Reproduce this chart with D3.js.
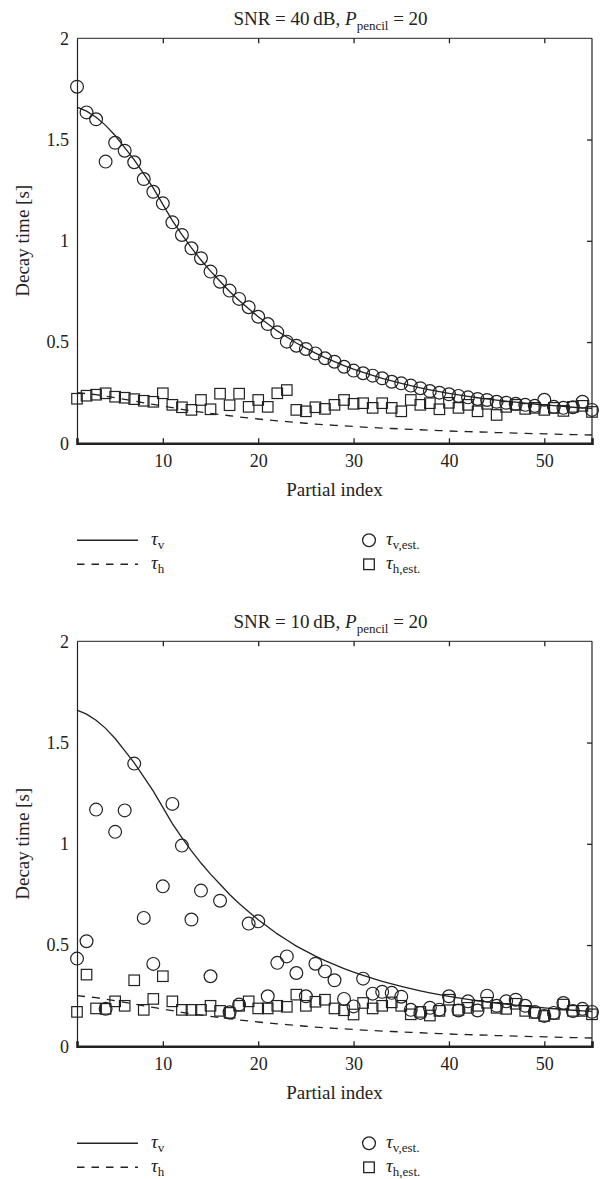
<!DOCTYPE html>
<meta charset="utf-8">
<head>
  <title>Decay time per partial</title>
</head>
<style>
body { margin: 0; background: #fff; }
svg text { font-family: "Liberation Serif", "Times New Roman", serif; fill: #222; }
</style>
<body>
<svg id="chart" width="605" height="1179"></svg>
<script src="https://cdnjs.cloudflare.com/ajax/libs/d3/7.8.5/d3.min.js"></script>
<script>
// partial index 1..55
var partials = d3.range(1, 56);

// model curves (same in both panels)
var tauV = [1.66, 1.64, 1.61, 1.57, 1.52, 1.46, 1.40, 1.33, 1.26, 1.18,
  1.10, 1.03, 0.965, 0.905, 0.85, 0.80, 0.75, 0.705, 0.665, 0.625,
  0.59, 0.555, 0.525, 0.495, 0.47, 0.445, 0.423, 0.403, 0.384, 0.366,
  0.35, 0.335, 0.321, 0.308, 0.296, 0.285, 0.274, 0.264, 0.255, 0.247,
  0.239, 0.232, 0.225, 0.219, 0.213, 0.208, 0.203, 0.198, 0.194, 0.19,
  0.186, 0.182, 0.178, 0.175, 0.172];
var tauH = [0.25, 0.245, 0.24, 0.233, 0.225, 0.217, 0.209, 0.2, 0.192, 0.184,
  0.176, 0.168, 0.161, 0.154, 0.148, 0.142, 0.136, 0.13, 0.125, 0.12,
  0.115, 0.111, 0.107, 0.103, 0.099, 0.095, 0.092, 0.089, 0.086, 0.083,
  0.08, 0.078, 0.075, 0.073, 0.071, 0.069, 0.067, 0.065, 0.063, 0.061,
  0.059, 0.058, 0.056, 0.055, 0.053, 0.052, 0.05, 0.049, 0.048, 0.047,
  0.045, 0.044, 0.043, 0.042, 0.041];

// SNR = 40 dB estimates
var tauVest40 = [1.761, 1.634, 1.60, 1.391, 1.484, 1.445, 1.388, 1.305, 1.242, 1.185,
  1.091, 1.029, 0.963, 0.914, 0.848, 0.798, 0.754, 0.713, 0.672, 0.625,
  0.589, 0.548, 0.502, 0.482, 0.466, 0.444, 0.42, 0.403, 0.378, 0.359,
  0.346, 0.334, 0.321, 0.304, 0.296, 0.285, 0.272, 0.258, 0.25, 0.242,
  0.234, 0.227, 0.219, 0.214, 0.205, 0.2, 0.195, 0.19, 0.185, 0.215,
  0.18, 0.175, 0.178, 0.205, 0.165];
var tauHest40 = [0.22, 0.235, 0.24, 0.247, 0.23, 0.225, 0.218, 0.21, 0.205, 0.247,
  0.19, 0.178, 0.165, 0.214, 0.168, 0.245, 0.188, 0.245, 0.18, 0.214,
  0.18, 0.247, 0.263, 0.165, 0.158, 0.178, 0.17, 0.19, 0.214, 0.195,
  0.198, 0.175, 0.198, 0.175, 0.158, 0.214, 0.19, 0.198, 0.168, 0.2,
  0.175, 0.19, 0.158, 0.195, 0.14, 0.18, 0.19, 0.17, 0.175, 0.165,
  0.175, 0.16, 0.18, 0.185, 0.155];

// SNR = 10 dB estimates
var tauVest10 = [0.433, 0.519, 1.169, 0.185, 1.059, 1.165, 1.396, 0.634, 0.407, 0.79,
  1.197, 0.991, 0.626, 0.769, 0.346, 0.719, 0.168, 0.206, 0.606, 0.617,
  0.247, 0.412, 0.444, 0.362, 0.247, 0.408, 0.37, 0.326, 0.234, 0.197,
  0.334, 0.26, 0.269, 0.264, 0.245, 0.18, 0.165, 0.19, 0.181, 0.247,
  0.177, 0.222, 0.177, 0.25, 0.2, 0.222, 0.23, 0.2, 0.17, 0.15,
  0.165, 0.214, 0.174, 0.185, 0.17];
var tauHest10 = [0.17, 0.354, 0.187, 0.185, 0.222, 0.2, 0.326, 0.18, 0.234, 0.346,
  0.222, 0.18, 0.18, 0.18, 0.2, 0.175, 0.165, 0.2, 0.222, 0.187,
  0.187, 0.2, 0.195, 0.255, 0.2, 0.22, 0.23, 0.187, 0.178, 0.157,
  0.214, 0.187, 0.2, 0.217, 0.2, 0.158, 0.17, 0.152, 0.175, 0.23,
  0.18, 0.19, 0.2, 0.215, 0.19, 0.185, 0.21, 0.175, 0.165, 0.15,
  0.16, 0.206, 0.175, 0.175, 0.158];

var xTicks = [10, 20, 30, 40, 50];
var yTicks = [0, 0.5, 1, 1.5, 2];

var svg = d3.select('#chart');
var W = 605;
var plotL = 77, plotR = 592, plotH = 405;
var ink = '#222';

var x = d3.scaleLinear().domain([1, 55]).range([plotL, plotR]);

function drawPanel(top, snr, vEst, hEst) {
  var y = d3.scaleLinear().domain([0, 2]).range([top + plotH, top]);
  var g = svg.append('g');

  // title
  var t = g.append('text')
    .attr('x', (plotL + plotR) / 2 - 4)
    .attr('y', top - 13)
    .attr('text-anchor', 'middle')
    .style('font-size', '19px');
  t.append('tspan').text('SNR = ' + snr + '\u2009dB, ');
  t.append('tspan').style('font-style', 'italic').text('P');
  t.append('tspan').attr('dy', 5).style('font-size', '13px').text('pencil');
  t.append('tspan').attr('dy', -5).text(' = 20');

  // box
  g.append('line').attr('x1', plotL).attr('x2', plotR).attr('y1', top).attr('y2', top)
    .attr('stroke', ink).attr('stroke-width', 1);
  g.append('line').attr('x1', plotR).attr('x2', plotR).attr('y1', top).attr('y2', top + plotH)
    .attr('stroke', ink).attr('stroke-width', 1.2);

  // axes
  var ax = g.append('g').attr('transform', 'translate(0,' + (top + plotH) + ')')
    .call(d3.axisBottom(x).tickValues(xTicks).tickSize(-5).tickFormat(d3.format('d')));
  ax.select('.domain').attr('stroke', ink).attr('stroke-width', 2.6);
  ax.selectAll('.tick line').attr('stroke', ink).attr('stroke-width', 1.3);
  ax.selectAll('.tick text').attr('y', 24).attr('dy', null)
    .style('font-size', '18px').attr('fill', ink);

  var axT = g.append('g').attr('transform', 'translate(0,' + top + ')')
    .call(d3.axisTop(x).tickValues(xTicks).tickSize(-5).tickFormat(''));
  axT.select('.domain').remove();
  axT.selectAll('.tick line').attr('stroke', ink).attr('stroke-width', 1.3);

  var ay = g.append('g').attr('transform', 'translate(' + plotL + ',0)')
    .call(d3.axisLeft(y).tickValues(yTicks).tickSize(0).tickPadding(8).tickFormat(d3.format('')));
  ay.select('.domain').attr('stroke', ink).attr('stroke-width', 1.2);
  ay.selectAll('.tick text').style('font-size', '18px').attr('fill', ink);

  var axR = g.append('g').attr('transform', 'translate(' + plotR + ',0)')
    .call(d3.axisRight(y).tickValues(yTicks.slice(1, 4)).tickSize(-5).tickFormat(''));
  axR.select('.domain').remove();
  axR.selectAll('.tick line').attr('stroke', ink).attr('stroke-width', 1.3);

  // axis labels
  g.append('text')
    .attr('x', (plotL + plotR) / 2).attr('y', top + plotH + 53)
    .attr('text-anchor', 'middle').style('font-size', '19px')
    .text('Partial index');
  g.append('text')
    .attr('transform', 'translate(29,' + (top + plotH / 2) + ') rotate(-90)')
    .attr('text-anchor', 'middle').style('font-size', '19px')
    .text('Decay time [s]');

  // model lines
  var line = d3.line().x(function (d, i) { return x(partials[i]); }).y(function (d) { return y(d); });
  g.append('path').datum(tauV).attr('d', line)
    .attr('fill', 'none').attr('stroke', ink).attr('stroke-width', 1.3);
  g.append('path').datum(tauH).attr('d', line)
    .attr('fill', 'none').attr('stroke', ink).attr('stroke-width', 1.3)
    .attr('stroke-dasharray', '8,7');

  // estimates
  var sq = 10.5;
  g.append('g').selectAll('rect').data(hEst).join('rect')
    .attr('x', function (d, i) { return x(partials[i]) - sq / 2; })
    .attr('y', function (d) { return y(d) - sq / 2; })
    .attr('width', sq).attr('height', sq)
    .attr('fill', 'none').attr('stroke', ink).attr('stroke-width', 1.2);
  g.append('g').selectAll('circle').data(vEst).join('circle')
    .attr('cx', function (d, i) { return x(partials[i]); })
    .attr('cy', function (d) { return y(d); })
    .attr('r', 6.4)
    .attr('fill', 'none').attr('stroke', ink).attr('stroke-width', 1.2);

  // legend
  var ly1 = top + plotH + 97, ly2 = ly1 + 24;
  g.append('line').attr('x1', 77).attr('x2', 138).attr('y1', ly1).attr('y2', ly1)
    .attr('stroke', ink).attr('stroke-width', 1.4);
  g.append('line').attr('x1', 77).attr('x2', 138).attr('y1', ly2).attr('y2', ly2)
    .attr('stroke', ink).attr('stroke-width', 1.4).attr('stroke-dasharray', '7.5,7');
  g.append('circle').attr('cx', 369).attr('cy', ly1).attr('r', 6.4)
    .attr('fill', 'none').attr('stroke', ink).attr('stroke-width', 1.3);
  g.append('rect').attr('x', 369 - 5.3).attr('y', ly2 - 5.3).attr('width', 10.6).attr('height', 10.6)
    .attr('fill', 'none').attr('stroke', ink).attr('stroke-width', 1.3);

  var legItems = [
    { x: 151, y: ly1, sub: 'v' },
    { x: 151, y: ly2, sub: 'h' },
    { x: 386, y: ly1, sub: 'v,est.' },
    { x: 386, y: ly2, sub: 'h,est.' }
  ];
  legItems.forEach(function (it) {
    var tx = g.append('text').attr('x', it.x).attr('y', it.y + 5).style('font-size', '19px');
    tx.append('tspan').style('font-style', 'italic').text('\u03c4');
    tx.append('tspan').attr('dy', 4).style('font-size', '13px').text(it.sub);
  });
}

drawPanel(38.3, 40, tauVest40, tauHest40);
drawPanel(641.3, 10, tauVest10, tauHest10);
</script>
</body>
</html>
